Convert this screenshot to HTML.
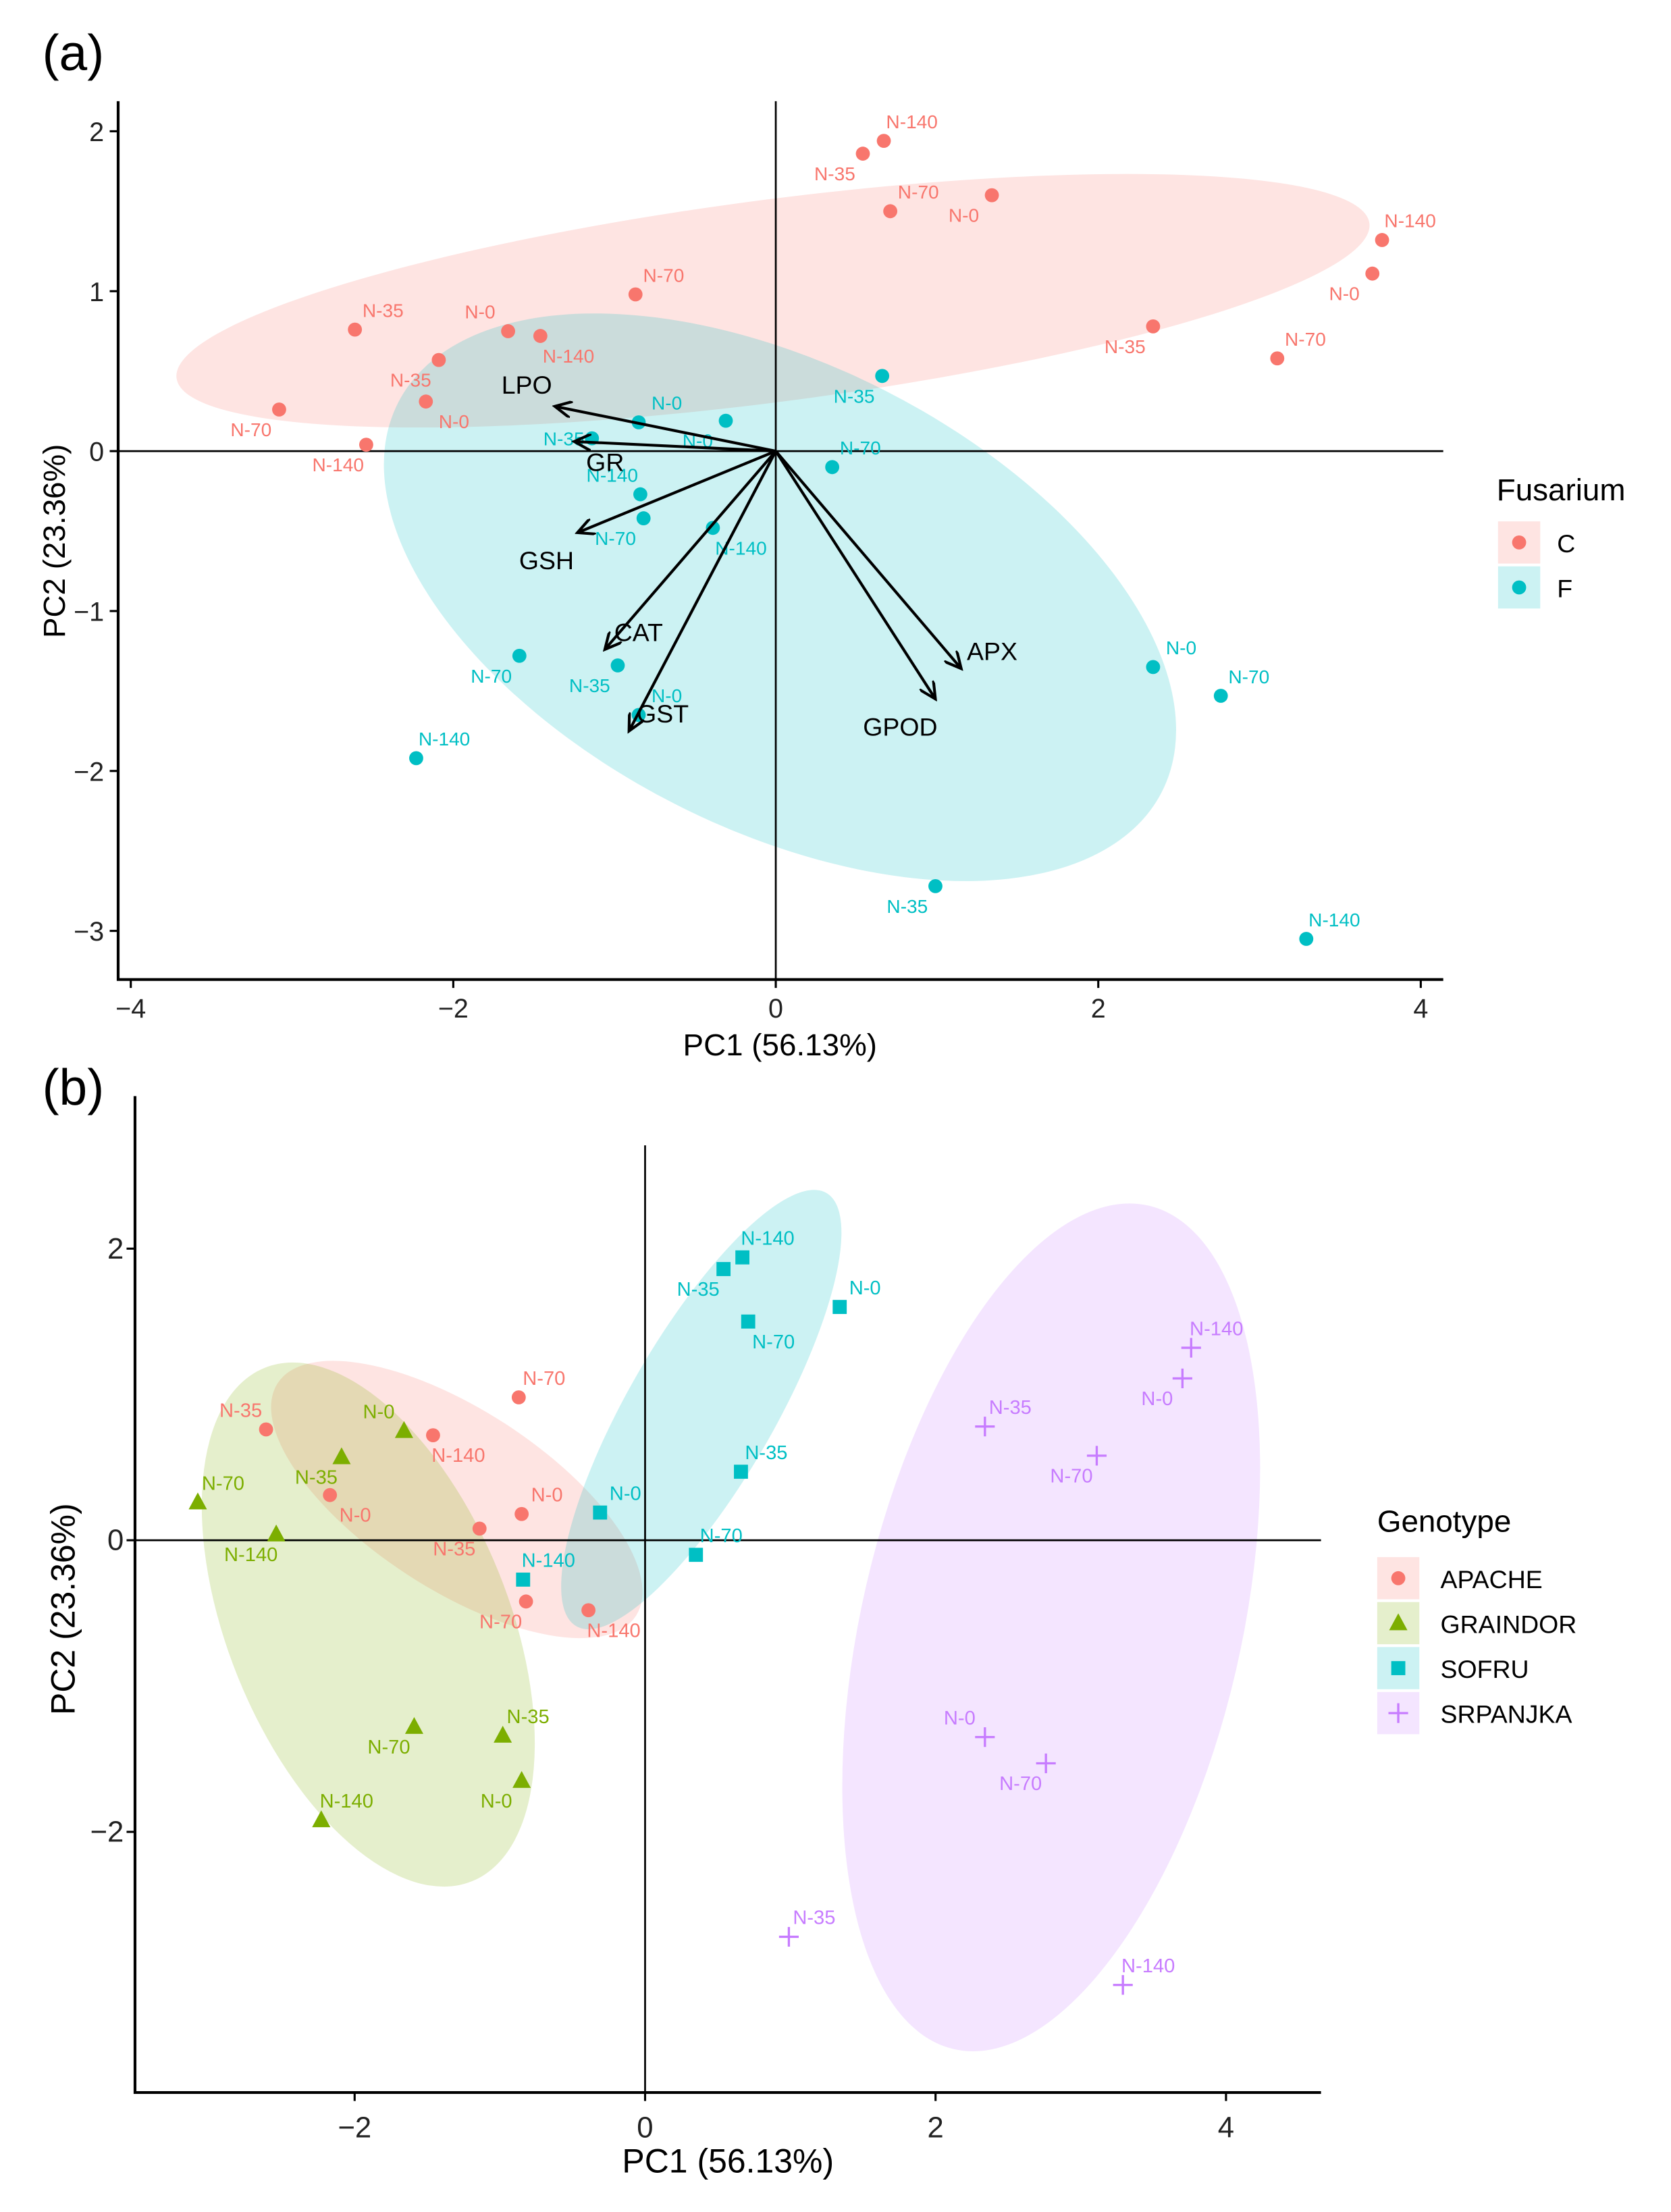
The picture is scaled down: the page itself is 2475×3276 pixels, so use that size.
<!DOCTYPE html>
<html><head><meta charset="utf-8"><style>
html,body{margin:0;padding:0;background:#fff;}
svg{display:block;font-family:"Liberation Sans",sans-serif;}
</style></head>
<body>
<svg id="fig" width="2475" height="3276" viewBox="0 0 1189 1574" xmlns="http://www.w3.org/2000/svg">
<g id="pa"></g>
<g id="pb"></g>
</svg>
<script>
// ---- data ----
const genotypes=["APACHE","APACHE","APACHE","APACHE","APACHE","APACHE","APACHE","APACHE",
"GRAINDOR","GRAINDOR","GRAINDOR","GRAINDOR","GRAINDOR","GRAINDOR","GRAINDOR","GRAINDOR",
"SOFRU","SOFRU","SOFRU","SOFRU","SOFRU","SOFRU","SOFRU","SOFRU",
"SRPANJKA","SRPANJKA","SRPANJKA","SRPANJKA","SRPANJKA","SRPANJKA","SRPANJKA","SRPANJKA"];
const fusarium=["C","C","C","C","F","F","F","F","C","C","C","C","F","F","F","F",
"C","C","C","C","F","F","F","F","C","C","C","C","F","F","F","F"];
const nLevels=["N-70","N-35","N-140","N-0","N-0","N-35","N-70","N-140",
"N-0","N-35","N-70","N-140","N-35","N-70","N-0","N-140",
"N-35","N-140","N-0","N-70","N-35","N-0","N-70","N-140",
"N-140","N-0","N-35","N-70","N-0","N-70","N-35","N-140"];
const pc1=[-0.87,-2.61,-1.46,-2.17,-0.85,-1.14,-0.82,-0.39,
-1.66,-2.09,-3.08,-2.54,-0.98,-1.59,-0.85,-2.23,
0.54,0.67,1.34,0.71,0.66,-0.31,0.35,-0.84,
3.76,3.70,2.34,3.11,2.34,2.76,0.99,3.29];
const pc2=[0.98,0.76,0.72,0.31,0.18,0.08,-0.42,-0.48,
0.75,0.57,0.26,0.04,-1.34,-1.28,-1.65,-1.92,
1.86,1.94,1.60,1.50,0.47,0.19,-0.10,-0.27,
1.32,1.11,0.78,0.58,-1.35,-1.53,-2.72,-3.05];
// label direction (+1/-1) per point
const labSxA=[1,1,1,1,1,-1,-1,1,-1,-1,-1,-1,-1,-1,1,1,-1,1,-1,1,-1,-1,1,-1,1,-1,-1,1,1,1,-1,1];
const labSyA=[-1,-1,1,1,-1,0,1,1,-1,1,1,1,1,1,-1,-1,1,-1,1,-1,1,1,-1,-1,-1,1,1,-1,-1,-1,1,-1];
const labSxB=[1,-1,1,1,1,-1,-1,1,-1,-1,1,-1,1,-1,-1,1,-1,1,1,1,1,1,1,1,1,-1,1,-1,-1,-1,1,1];
const labSyB=[-1,-1,1,1,-1,1,1,1,-1,1,-1,1,-1,1,1,-1,1,-1,-1,1,-1,-1,-1,-1,-1,1,-1,1,-1,1,-1,-1];
const loadNames=["LPO","GR","GSH","CAT","GST","APX","GPOD"];
const loadX=[-1.37,-1.25,-1.23,-1.06,-0.91,1.15,0.99];
const loadY=[0.28,0.06,-0.51,-1.24,-1.75,-1.36,-1.55];
const ticksA_x=[-4,-2,0,2,4], ticksA_y=[2,1,0,-1,-2,-3];
const ticksB_x=[-2,0,2,4], ticksB_y=[2,0,-2];
const fusLevels=["C","F"];
const genoLevels=["APACHE","GRAINDOR","SOFRU","SRPANJKA"];

const NS="http://www.w3.org/2000/svg";
const col={C:"#F8766D",F:"#00BFC4",APACHE:"#F8766D",GRAINDOR:"#7CAE00",SOFRU:"#00BFC4",SRPANJKA:"#C77CFF"};
function mk(p,tag,attrs,txt){const e=document.createElementNS(NS,tag);for(const k in attrs)e.setAttribute(k,attrs[k]);if(txt!==undefined)e.textContent=txt;p.appendChild(e);return e;}

// ---- panel a ----
const A=document.getElementById('pa');
const ax=v=>552+v*114.75, ay=v=>321-v*113.8;
let t=mk(A,'text',{x:30,y:50,'font-size':36},'(a)');


function ell(p,cx,cy,rx,ry,ang,fill,name){const e=mk(p,'ellipse',{cx:cx,cy:cy,rx:rx,ry:ry,transform:`rotate(${ang} ${cx} ${cy})`,fill:fill,'fill-opacity':0.2});

}
ell(A,550,214,428,72,-7.4,col.C,'ellipse-c');
ell(A,555,425,305,165,27,col.F,'ellipse-f');
let l=mk(A,'line',{x1:84,y1:321,x2:1027,y2:321,stroke:'#000','stroke-width':1.3});


l=mk(A,'line',{x1:552,y1:72,x2:552,y2:697,stroke:'#000','stroke-width':1.3});


l=mk(A,'path',{d:'M84 72 V697 H1027',fill:'none',stroke:'#000','stroke-width':2});


ticksA_x.forEach(v=>{mk(A,'line',{x1:ax(v),x2:ax(v),y1:697,y2:703,stroke:'#000','stroke-width':1.5});
const tt=mk(A,'text',{x:ax(v),y:724,'font-size':19,'text-anchor':'middle',fill:'#222'},v<0?'\u2212'+(-v):v);

});
ticksA_y.forEach(v=>{mk(A,'line',{x1:78,x2:84,y1:ay(v),y2:ay(v),stroke:'#000','stroke-width':1.5});
const tt=mk(A,'text',{x:74,y:ay(v)+7,'font-size':19,'text-anchor':'end',fill:'#222'},v<0?'\u2212'+(-v):v);

});
t=mk(A,'text',{x:555,y:751,'font-size':22,'text-anchor':'middle'},'PC1 (56.13%)');


t=mk(A,'text',{x:46,y:385,'font-size':22,'text-anchor':'middle',transform:'rotate(-90 46 385)'},'PC2 (23.36%)');


// points a
for(let i=0;i<pc1.length;i++){const c=col[fusarium[i]];const px=ax(pc1[i]),py=ay(pc2[i]);
const p=mk(A,'circle',{cx:px,cy:py,r:5,fill:c});


const lb=mk(A,'text',{x:px+labSxA[i]*20,y:py+labSyA[i]*14+5,'font-size':13.5,'text-anchor':'middle',fill:c},nLevels[i]);

}
// arrows
mk(A,'defs',{}).innerHTML='<marker id="ah" markerWidth="14" markerHeight="12" refX="12" refY="6" orient="auto" markerUnits="userSpaceOnUse"><path d="M0 0 L12 6 L0 12" fill="none" stroke="#000" stroke-width="2"/></marker>';
const labOff=[[-20,-15],[22,15],[-22,20],[24,-12],[24,-12],[22,-12],[-25,20]];
for(let i=0;i<loadNames.length;i++){const x2=ax(loadX[i]),y2=ay(loadY[i]);
const a=mk(A,'line',{x1:552,y1:321,x2:x2,y2:y2,stroke:'#000','stroke-width':2,'marker-end':'url(#ah)'});


const lt=mk(A,'text',{x:x2+labOff[i][0],y:y2+labOff[i][1]+6,'font-size':18,'text-anchor':'middle'},loadNames[i]);

}
// legend a
t=mk(A,'text',{x:1065,y:356,'font-size':22},'Fusarium');


fusLevels.forEach((f,k)=>{const y=386+k*32;
const r=mk(A,'rect',{x:1066,y:y-15,width:30,height:30,fill:col[f],'fill-opacity':0.2});


mk(A,'circle',{cx:1081,cy:y,r:5,fill:col[f]});
const lt=mk(A,'text',{x:1108,y:y+7,'font-size':18},f);

});

// ---- panel b ----
const B=document.getElementById('pb');
const bx=v=>459+v*103.35, by=v=>1096-v*103.75;
t=mk(B,'text',{x:30,y:786,'font-size':36},'(b)');


ell(B,325,1067,152,64,33,col.APACHE,'ellipse-apache');
ell(B,262,1156,197,100,68,col.GRAINDOR,'ellipse-graindor');
ell(B,499,1003,178,52,-60,col.SOFRU,'ellipse-sofru');
ell(B,748,1158,308,135,-77,col.SRPANJKA,'ellipse-srpanjka');
l=mk(B,'line',{x1:96,y1:1096,x2:940,y2:1096,stroke:'#000','stroke-width':1.3});


l=mk(B,'line',{x1:459,y1:815,x2:459,y2:1489,stroke:'#000','stroke-width':1.3});


l=mk(B,'path',{d:'M96 780 V1489 H940',fill:'none',stroke:'#000','stroke-width':2});


ticksB_x.forEach(v=>{mk(B,'line',{x1:bx(v),x2:bx(v),y1:1489,y2:1495,stroke:'#000','stroke-width':1.5});
const tt=mk(B,'text',{x:bx(v),y:1521,'font-size':21,'text-anchor':'middle',fill:'#222'},v<0?'\u2212'+(-v):v);

});
ticksB_y.forEach(v=>{mk(B,'line',{x1:90,x2:96,y1:by(v),y2:by(v),stroke:'#000','stroke-width':1.5});
const tt=mk(B,'text',{x:88,y:by(v)+7,'font-size':21,'text-anchor':'end',fill:'#222'},v<0?'\u2212'+(-v):v);

});
t=mk(B,'text',{x:518,y:1546,'font-size':24,'text-anchor':'middle'},'PC1 (56.13%)');


t=mk(B,'text',{x:53,y:1145,'font-size':24,'text-anchor':'middle',transform:'rotate(-90 53 1145)'},'PC2 (23.36%)');


function marker(p,g,x,y){const c=col[g];let e;
if(g==='APACHE')e=mk(p,'circle',{cx:x,cy:y,r:5,fill:c});
else if(g==='GRAINDOR')e=mk(p,'path',{d:`M${x} ${y-7} L${x+6.5} ${y+5} L${x-6.5} ${y+5}Z`,fill:c});
else if(g==='SOFRU')e=mk(p,'rect',{x:x-5,y:y-5,width:10,height:10,fill:c});
else e=mk(p,'path',{d:`M${x-7} ${y} H${x+7} M${x} ${y-7} V${y+7}`,stroke:c,'stroke-width':1.6,fill:'none'});
return e;}
for(let i=0;i<pc1.length;i++){const g=genotypes[i];const px=bx(pc1[i]),py=by(pc2[i]);
const m=marker(B,g,px,py);


const lb=mk(B,'text',{x:px+labSxB[i]*18,y:py+labSyB[i]*14+5,'font-size':14,'text-anchor':'middle',fill:col[g]},nLevels[i]);

}
t=mk(B,'text',{x:980,y:1090,'font-size':22},'Genotype');


genoLevels.forEach((g,k)=>{const y=1123+k*32;
const r=mk(B,'rect',{x:980,y:y-15,width:30,height:30,fill:col[g],'fill-opacity':0.2});


marker(B,g,995,y);
const lt=mk(B,'text',{x:1025,y:y+7,'font-size':18},g);

});
</script>
</body></html>
